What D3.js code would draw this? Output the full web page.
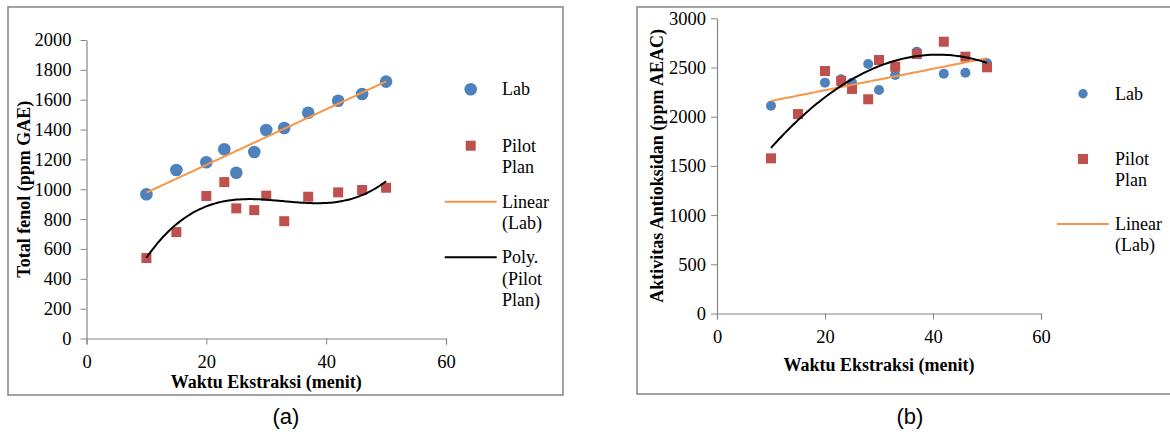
<!DOCTYPE html>
<html>
<head>
<meta charset="utf-8">
<script src="https://cdn.jsdelivr.net/npm/d3@7"></script>
<style>
  body { margin: 0; background: #fff; }
  svg { display: block; }
  .axis path, .axis line { stroke: #868686; }
</style>
</head>
<body>
<script>
// waktu ekstraksi (menit), dipakai kedua grafik
var waktu = [10, 15, 20, 23, 25, 28, 30, 33, 37, 42, 46, 50]

// (a) total fenol
var fenolLab = [966, 1129, 1181, 1268, 1111, 1250, 1397, 1410, 1513, 1593, 1638, 1721]
var fenolPilot = [539, 713, 955, 1048, 872, 860, 957, 786, 950, 979, 995, 1010]

// (b) aktivitas antioksidan
var aktLab = [2112, 2020, 2346, 2380, 2346, 2536, 2271, 2424, 2661, 2437, 2447, 2543]
var aktPilot = [1577, 2027, 2464, 2363, 2282, 2177, 2576, 2508, 2637, 2762, 2610, 2502]

var xTicks = [0, 20, 40, 60]
var fenolTicks = [0, 200, 400, 600, 800, 1000, 1200, 1400, 1600, 1800, 2000]
var aktTicks = [0, 500, 1000, 1500, 2000, 2500, 3000]

var blue = "#4f81bd", red = "#c0504d", orange = "#f79646"
var serif = "Liberation Serif"

var W = 1170, H = 432
var svg = d3.select("body").append("svg").attr("width", W).attr("height", H)

// least squares polynomial (trendline like excel)
function polyFit(xs, ys, order) {
    var n = order + 1
    var A = [], b = []
    for (var i = 0; i < n; i++) {
        A.push([])
        for (var j = 0; j < n; j++) {
            A[i].push(d3.sum(xs, function (x) { return Math.pow(x, i + j) }))
        }
        b.push(d3.sum(xs, function (x, k) { return ys[k] * Math.pow(x, i) }))
    }
    // gauss elimination
    for (var c = 0; c < n; c++) {
        for (var r = c + 1; r < n; r++) {
            var f = A[r][c] / A[c][c]
            for (var k = c; k < n; k++) A[r][k] -= f * A[c][k]
            b[r] -= f * b[c]
        }
    }
    var coef = new Array(n)
    for (var r = n - 1; r >= 0; r--) {
        var s = b[r]
        for (var k = r + 1; k < n; k++) s -= A[r][k] * coef[k]
        coef[r] = s / A[r][r]
    }
    return function (x) {
        return d3.sum(coef, function (cf, p) { return cf * Math.pow(x, p) })
    }
}

function drawPanel(cfg) {
    var g = svg.append("g")

    g.append("rect")
        .attr("x", cfg.frame[0]).attr("y", cfg.frame[1])
        .attr("width", cfg.frame[2]).attr("height", cfg.frame[3])
        .attr("fill", "none").attr("stroke", "#8c8c8c").attr("stroke-width", 1.6)

    var xScale = d3.scaleLinear().domain([0, 60]).range(cfg.xRange)
    var yScale = d3.scaleLinear().domain([0, d3.max(cfg.yTicks)]).range(cfg.yRange)

    g.append("g").attr("class", "axis")
        .attr("transform", "translate(0," + cfg.yRange[0] + ")")
        .call(d3.axisBottom(xScale).tickValues(xTicks).tickFormat(d3.format("d"))
            .tickSize(6).tickPadding(10).tickSizeOuter(6))

    g.append("g").attr("class", "axis")
        .attr("transform", "translate(" + cfg.xRange[0] + ",0)")
        .call(d3.axisLeft(yScale).tickValues(cfg.yTicks).tickFormat(d3.format("d"))
            .tickSize(6).tickPadding(cfg.yPad).tickSizeOuter(0))

    g.selectAll(".axis text")
        .attr("font-family", serif).attr("font-size", 18.5).attr("fill", "#000")
    g.selectAll(".axis path").attr("stroke-width", 1.2)

    // titles
    g.append("text")
        .attr("x", (cfg.xRange[0] + cfg.xRange[1]) / 2).attr("y", cfg.xTitleY)
        .attr("text-anchor", "middle")
        .attr("font-family", serif).attr("font-size", 18).attr("font-weight", "bold")
        .text("Waktu Ekstraksi (menit)")

    g.append("text")
        .attr("transform", "translate(" + cfg.yTitleX + "," + (cfg.yRange[0] + cfg.yRange[1]) / 2 + ") rotate(-90)")
        .attr("text-anchor", "middle")
        .attr("font-family", serif).attr("font-size", 18).attr("font-weight", "bold")
        .text(cfg.yTitle)

    // markers: circles first, squares on top
    g.selectAll("circle.lab").data(cfg.lab).enter()
        .append("circle").attr("class", "lab")
        .attr("cx", function (d, i) { return xScale(waktu[i]) })
        .attr("cy", function (d) { return yScale(d) })
        .attr("r", cfg.r)
        .attr("fill", blue)

    g.selectAll("rect.pilot").data(cfg.pilot).enter()
        .append("rect").attr("class", "pilot")
        .attr("x", function (d, i) { return xScale(waktu[i]) - cfg.sq / 2 })
        .attr("y", function (d) { return yScale(d) - cfg.sq / 2 })
        .attr("width", cfg.sq).attr("height", cfg.sq)
        .attr("fill", red)

    // trendlines
    var xs = d3.range(d3.min(waktu), d3.max(waktu) + 0.01, 0.5)
    var lin = polyFit(waktu, cfg.lab, 1)
    var poly = polyFit(waktu, cfg.pilot, cfg.polyOrder)
    var line = d3.line()
        .x(function (d) { return xScale(d[0]) })
        .y(function (d) { return yScale(d[1]) })
        .curve(d3.curveMonotoneX)

    g.append("path")
        .attr("d", line(xs.map(function (x) { return [x, lin(x)] })))
        .attr("fill", "none").attr("stroke", orange).attr("stroke-width", 2)

    g.append("path")
        .attr("d", line(xs.map(function (x) { return [x, poly(x)] })))
        .attr("fill", "none").attr("stroke", "#000").attr("stroke-width", 2)

    // legend
    var L = cfg.legend
    var leg = g.append("g")
    function label(y, lines) {
        lines.forEach(function (t, k) {
            leg.append("text").attr("x", L.tx).attr("y", y + k * 21.5).attr("dy", "0.33em")
                .attr("font-family", serif).attr("font-size", 18)
                .text(t)
        })
    }
    leg.append("circle").attr("cx", L.mx).attr("cy", L.y[0]).attr("r", cfg.r * L.scale).attr("fill", blue)
    label(L.y[0], ["Lab"])
    leg.append("rect").attr("x", L.mx - 5).attr("y", L.y[1] - 5).attr("width", 10).attr("height", 10).attr("fill", red)
    label(L.y[1], ["Pilot", "Plan"])
    leg.append("line").attr("x1", L.mx - 26).attr("x2", L.mx + 26).attr("y1", L.y[2]).attr("y2", L.y[2])
        .attr("stroke", orange).attr("stroke-width", 2)
    label(L.y[2], ["Linear", "(Lab)"])
    if (L.y.length > 3) {
        leg.append("line").attr("x1", L.mx - 26).attr("x2", L.mx + 26).attr("y1", L.y[3]).attr("y2", L.y[3])
            .attr("stroke", "#000").attr("stroke-width", 2)
        label(L.y[3], ["Poly.", "(Pilot", "Plan)"])
    }

    g.append("text")
        .attr("x", cfg.capX).attr("y", 424)
        .attr("text-anchor", "middle")
        .attr("font-family", "Liberation Sans").attr("font-size", 22)
        .text(cfg.caption)
}

drawPanel({
    frame: [8, 7, 555, 388],
    xRange: [86.5, 446], yRange: [338.5, 40],
    yTicks: fenolTicks, yPad: 9,
    lab: fenolLab, pilot: fenolPilot, polyOrder: 3,
    r: 6.3, sq: 10,
    xTitleY: 388, yTitleX: 30,
    yTitle: "Total fenol (ppm GAE)",
    legend: { mx: 470.7, tx: 502, y: [89.3, 145.7, 201.7, 257.3], scale: 1 },
    capX: 286, caption: "(a)"
})

drawPanel({
    frame: [637, 7, 560, 387],
    xRange: [717, 1041], yRange: [313.5, 18.3],
    yTicks: aktTicks, yPad: 5,
    lab: aktLab, pilot: aktPilot, polyOrder: 2,
    r: 5, sq: 10,
    xTitleY: 371, yTitleX: 663,
    yTitle: "Aktivitas Antioksidan (ppm AEAC)",
    legend: { mx: 1083, tx: 1115, y: [93.7, 159, 224], scale: 0.94 },
    capX: 910, caption: "(b)"
})
</script>
</body>
</html>
